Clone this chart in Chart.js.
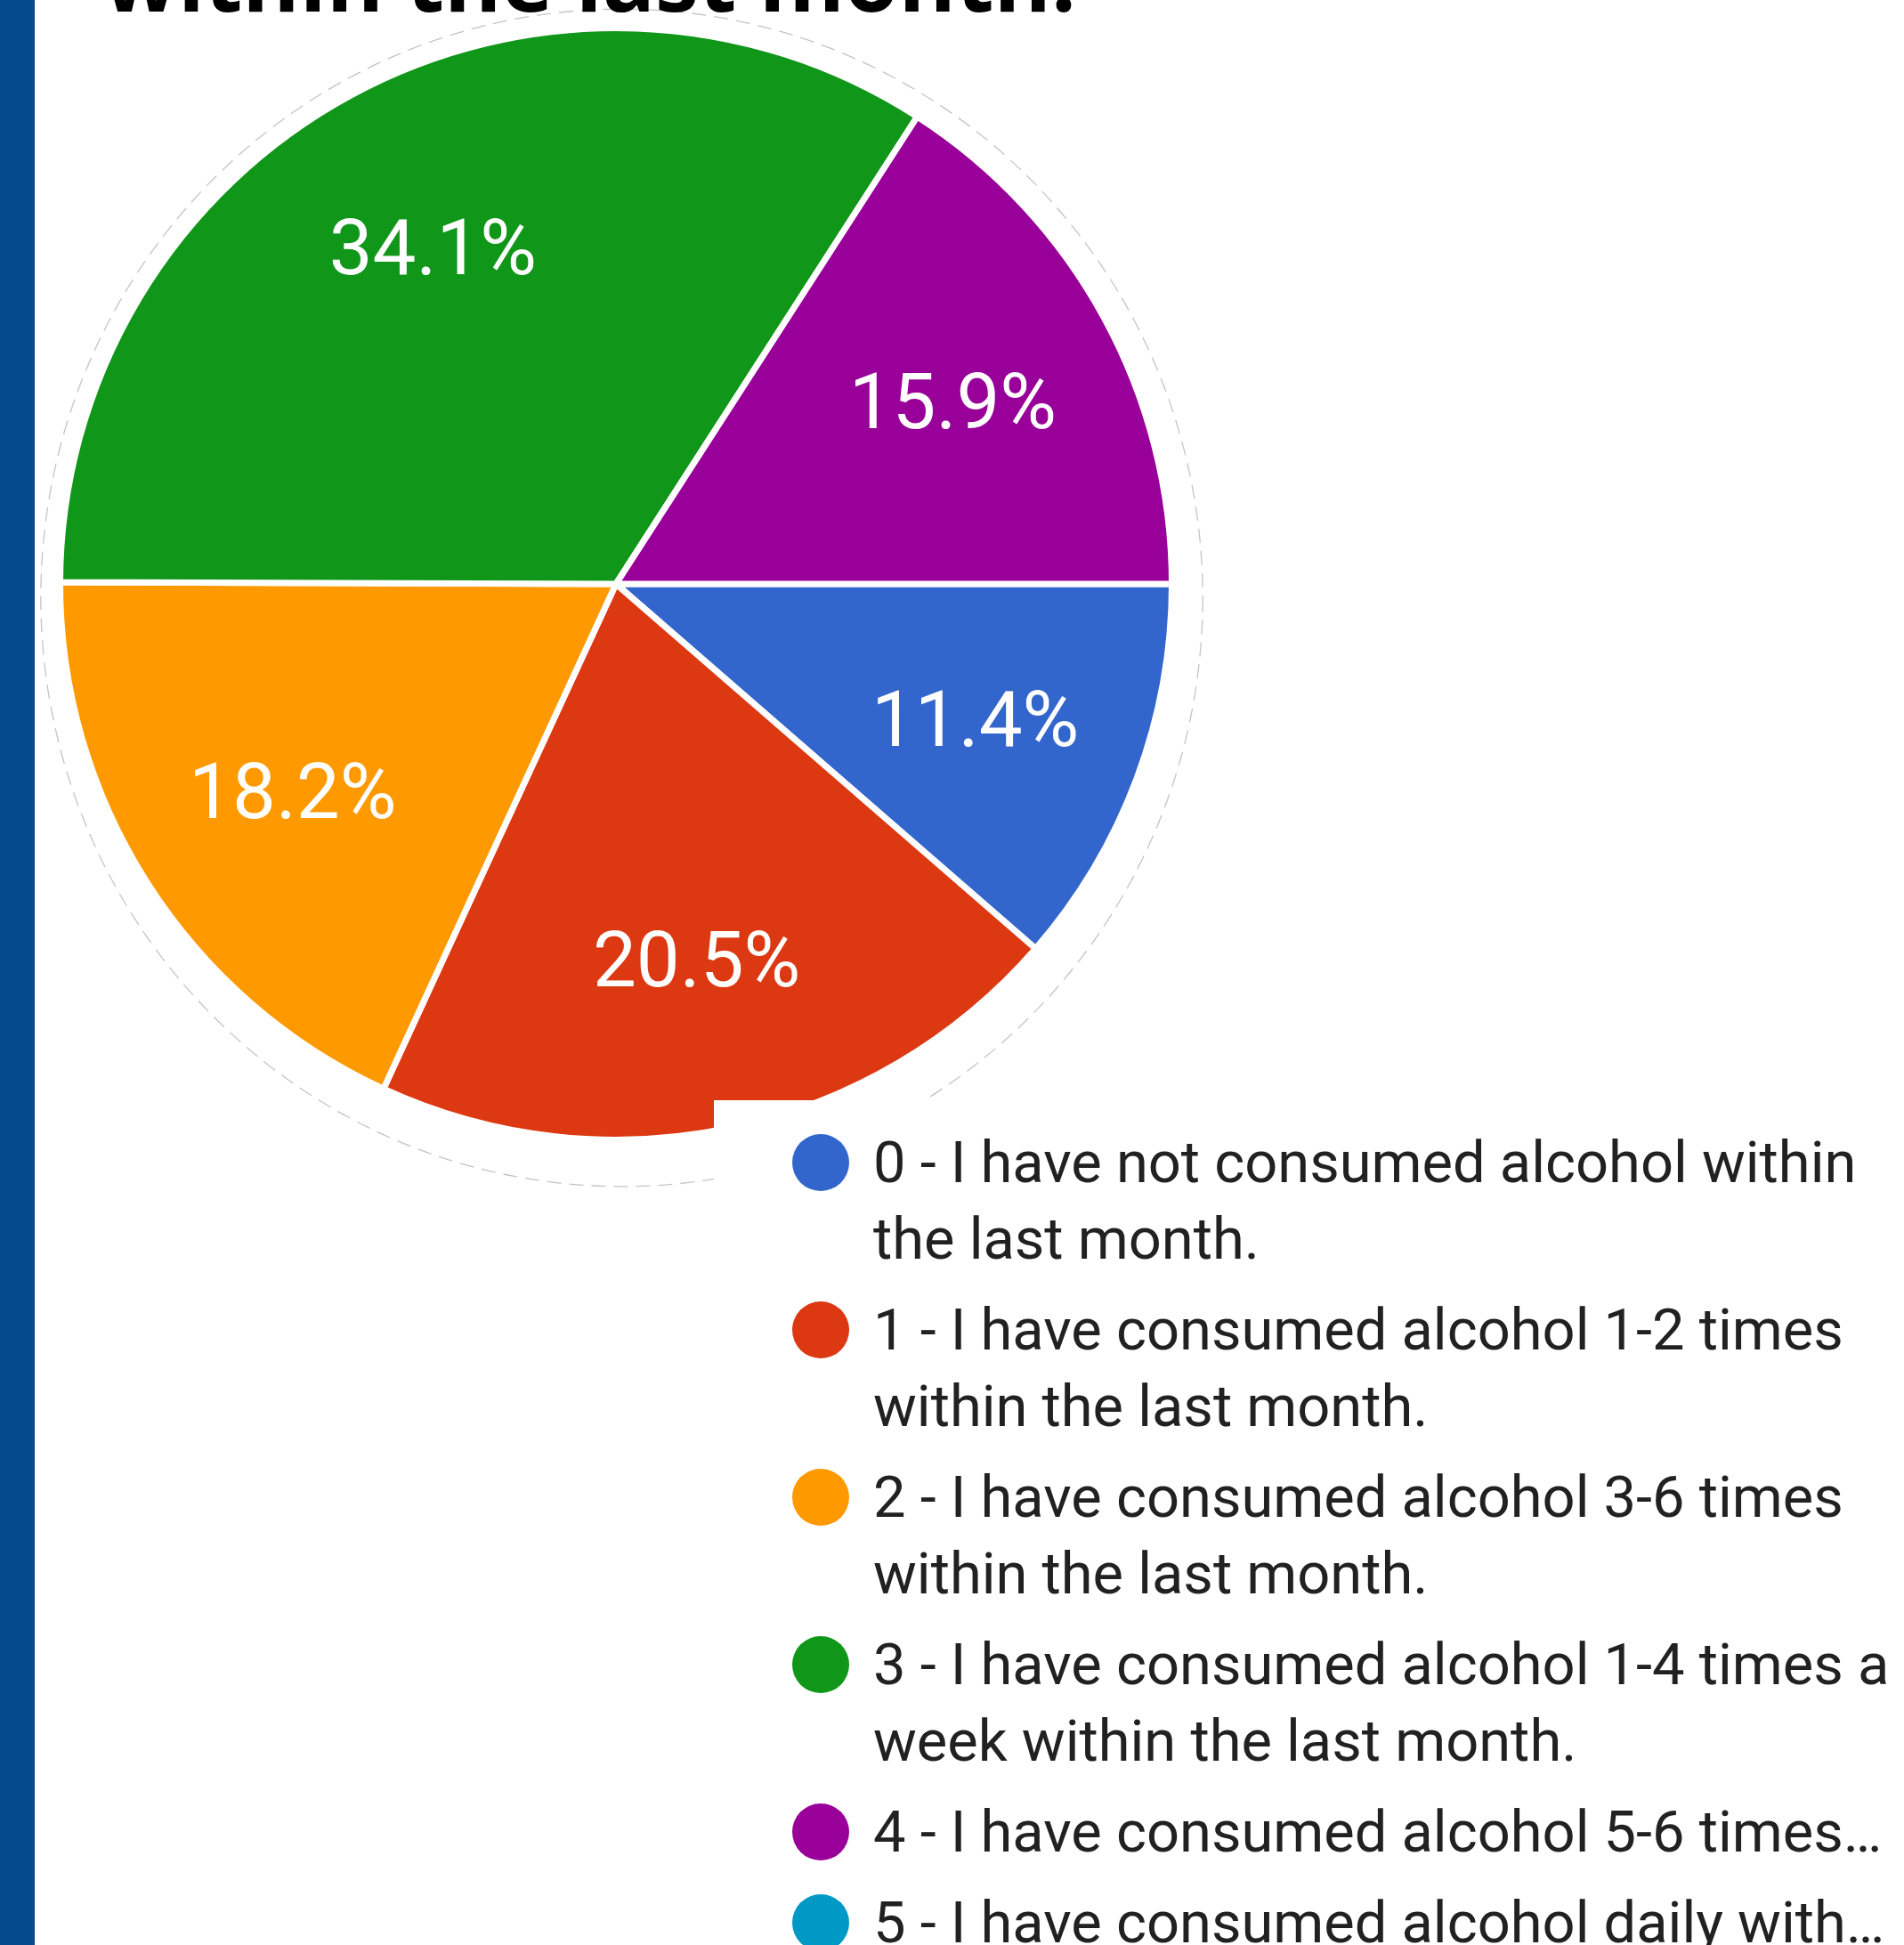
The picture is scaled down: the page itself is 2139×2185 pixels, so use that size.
<!DOCTYPE html>
<html>
<head>
<meta charset="utf-8">
<script src="https://cdn.jsdelivr.net/npm/chart.js@4.4.1/dist/chart.umd.min.js"></script>
<style>
    html, body { margin: 0; padding: 0; background: #fff; }
    #wrap { position: relative; width: 2139px; height: 2185px; overflow: hidden; background: #fff; }
    #sideBar { position: absolute; left: 0; top: 0; width: 39px; height: 100%; background: #044b8e; z-index: 3; }
    #pieChart { position: absolute; left: 0; top: 0; }
    #title {
        position: absolute; left: 116px; top: -74px; margin: 0; z-index: 2;
        font-family: "Open Sans", sans-serif; font-weight: 700; font-size: 98px; line-height: 98px;
        color: #000; white-space: nowrap;
    }
    #legend { position: absolute; left: 802px; top: 1236px; width: 1337px; height: 949px; background: #fff; z-index: 2; }
    #legend ul { list-style: none; margin: 0; padding: 27px 0 0 88px; }
    #legend li {
        position: relative; padding-left: 91px; margin-bottom: 16px; width: 1160px;
        font-family: Roboto, sans-serif; font-size: 65px; line-height: 86px; color: #212121;
    }
    #legend li .dot { position: absolute; left: 0; top: 11px; width: 64px; height: 64px; border-radius: 50%; }
</style>
</head>
<body>
<div id="wrap">
    <div id="sideBar"></div>
    <canvas id="pieChart" width="2139" height="2185"></canvas>
    <div id="title">within the last month.</div>
    <div id="legend"><ul id="legendList"></ul></div>
</div>
<script>
const categories = [
    '0 - I have not consumed alcohol within the last month.',
    '1 - I have consumed alcohol 1-2 times within the last month.',
    '2 - I have consumed alcohol 3-6 times within the last month.',
    '3 - I have consumed alcohol 1-4 times a week within the last month.',
    '4 - I have consumed alcohol 5-6 times…',
    '5 - I have consumed alcohol daily with…'
];
const percentages = [11.4, 20.5, 18.2, 34.1, 15.9, 0];
const sliceColors = ['#3366cc', '#dc3912', '#ff9900', '#109618', '#990099', '#0099c6'];

// faint dashed halo behind the pie
const haloRing = {
    id: 'haloRing',
    beforeDatasetsDraw(chart) {
        const arc = chart.getDatasetMeta(0).data[0];
        if (!arc) return;
        const {x, y, outerRadius} = arc.getProps(['x', 'y', 'outerRadius'], true);
        const r = outerRadius - 3.5;
        const ctx = chart.ctx;
        ctx.save();
        ctx.beginPath();
        ctx.ellipse(x + r * 0.0105, y + r * 0.025, r * 1.051, r * 1.065, 0, 0, Math.PI * 2);
        ctx.setLineDash([16, 9]);
        ctx.lineWidth = 1.3;
        ctx.strokeStyle = '#c4c4c4';
        ctx.stroke();
        ctx.restore();
    }
};

// percentage labels inside the slices
const sliceLabels = {
    id: 'sliceLabels',
    afterDatasetsDraw(chart) {
        const ctx = chart.ctx;
        const values = chart.data.datasets[0].data;
        ctx.save();
        ctx.font = '87px Roboto';
        ctx.fillStyle = '#fff';
        ctx.textAlign = 'center';
        ctx.textBaseline = 'alphabetic';
        chart.getDatasetMeta(0).data.forEach((arc, i) => {
            if (!values[i]) return;
            const p = arc.getProps(['x', 'y', 'startAngle', 'endAngle', 'outerRadius'], true);
            const mid = (p.startAngle + p.endAngle) / 2;
            const r = p.outerRadius * 0.69;
            const lx = p.x + Math.cos(mid) * r;
            const ly = p.y + Math.sin(mid) * r;
            ctx.fillText(values[i].toFixed(1) + '%', lx, ly + 87 * 0.355);
        });
        ctx.restore();
    }
};

let ctx = document.querySelector('#pieChart').getContext('2d');
let myChart = new Chart(ctx, {
    type: 'pie',
    data: {
        labels: categories,
        datasets: [{
            data: percentages,
            backgroundColor: sliceColors,
            borderColor: '#fff',
            borderWidth: 7,
            hoverOffset: 0
        }]
    },
    options: {
        responsive: false,
        animation: false,
        rotation: 90,
        layout: {
            padding: { left: 64, top: 28, right: 819, bottom: 901 }
        },
        plugins: {
            legend: { display: false },
            tooltip: { enabled: false }
        }
    },
    plugins: [haloRing, sliceLabels]
});

// html legend so long labels can wrap like the original
let list = document.getElementById('legendList');
myChart.data.labels.forEach((label, i) => {
    let li = document.createElement('li');
    let dot = document.createElement('span');
    dot.className = 'dot';
    dot.style.background = myChart.data.datasets[0].backgroundColor[i];
    li.appendChild(dot);
    li.appendChild(document.createTextNode(label));
    list.appendChild(li);
});
</script>
</body>
</html>
